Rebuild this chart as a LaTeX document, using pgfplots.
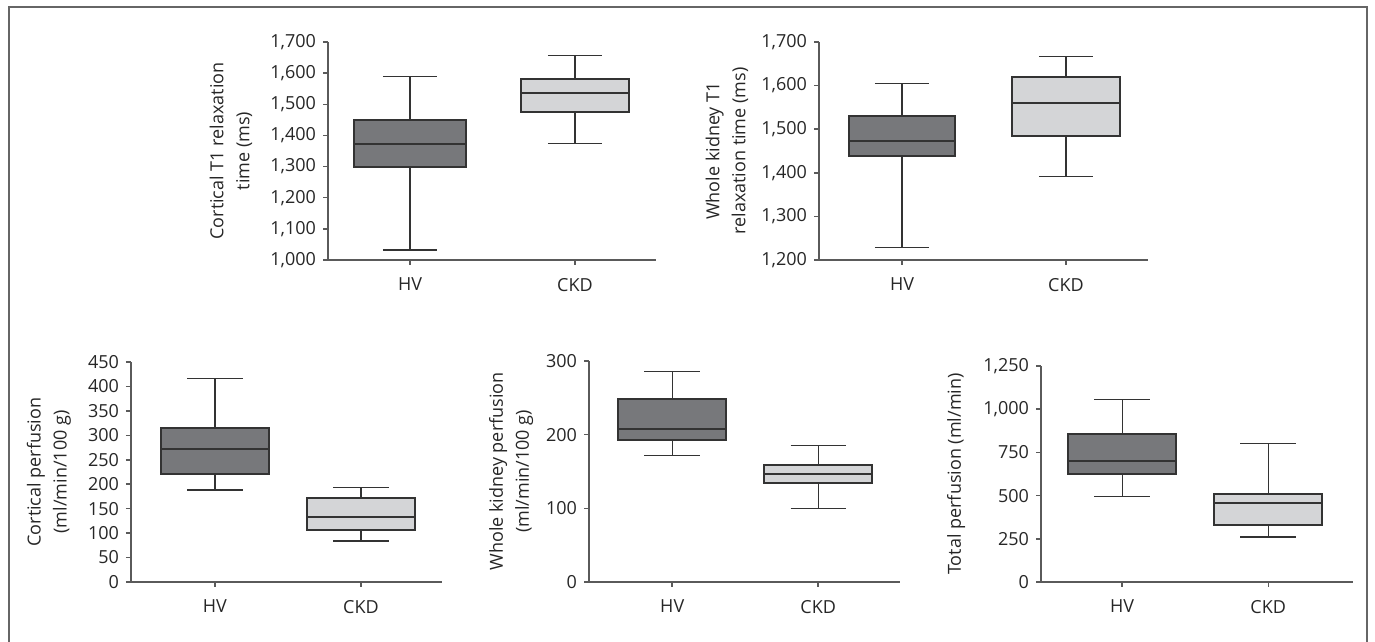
\documentclass[border=0pt]{standalone}
\usepackage{fontspec}
\setmainfont{Open Sans}
\usepackage{pgfplots}
\pgfplotsset{compat=1.18}
\definecolor{darkbox}{HTML}{77787B}
\definecolor{lightbox}{HTML}{D4D5D7}
\definecolor{edge}{HTML}{333333}
\definecolor{axisgray}{HTML}{5A5A5A}
\definecolor{framegray}{HTML}{666666}
\newcommand{\lblfont}{\fontsize{9}{13}\selectfont}
\pgfplotsset{
  whisk/.style={draw=edge, line width=0.6pt, mark=none},
  boxs/.style={draw=edge, line width=1pt, mark=none},
  mybox/.style={
    scale only axis,
    anchor=south west,
    clip=false,
    axis lines=left,
    axis line style={-, axisgray, line width=0.75pt},
    tick align=outside,
    major tick length=2.5pt,
    every tick/.style={axisgray, line width=0.75pt},
    xtick={1,2}, xticklabels={HV,CKD},
    tick label style={font=\lblfont, text=black!85},
    xticklabel style={yshift=-3pt},
    /pgf/number format/.cd, 1000 sep={,}, assume math mode=true,
    /pgfplots/.cd,
    every axis y label/.style={rotate=90, anchor=center, align=center, font=\lblfont, text=black!85},
  },
}
\begin{document}
\begin{tikzpicture}
\path[use as bounding box] (0,0) rectangle (687.5pt,321pt);
\draw[framegray, line width=1pt] (4.25pt,-1pt) -- (4.25pt,317.25pt) -- (683.5pt,317.25pt) -- (683.5pt,-1pt);

% Plot 1
\begin{axis}[mybox, at={(164pt,191pt)}, width=164pt, height=109pt,
  xmin=0.503, xmax=2.491, ymin=1000, ymax=1700, ytick distance=100,
  ylabel style={at={(axis description cs:-0.296,0.5)}},
  ylabel={Cortical T1 relaxation\\time (ms)}]
% HV: 1032, 1299, 1374, 1451, 1588
\addplot[whisk] coordinates {(1,1032) (1,1588)};
\addplot[whisk] coordinates {(0.835,1032) (1.165,1032)};
\addplot[whisk] coordinates {(0.835,1588) (1.165,1588)};
\addplot[boxs, fill=darkbox] coordinates {(0.66,1299) (1.34,1299) (1.34,1451) (0.66,1451)} -- cycle;
\addplot[boxs] coordinates {(0.66,1374) (1.34,1374)};
% CKD: 1374, 1474, 1536, 1582, 1657
\addplot[whisk] coordinates {(2,1374) (2,1657)};
\addplot[whisk] coordinates {(1.835,1374) (2.165,1374)};
\addplot[whisk] coordinates {(1.835,1657) (2.165,1657)};
\addplot[boxs, fill=lightbox] coordinates {(1.67,1474) (2.33,1474) (2.33,1582) (1.67,1582)} -- cycle;
\addplot[boxs] coordinates {(1.67,1536) (2.33,1536)};
\end{axis}

% Plot 2
\begin{axis}[mybox, at={(409.5pt,191pt)}, width=164.5pt, height=109pt,
  xmin=0.494, xmax=2.5, ymin=1200, ymax=1700, ytick distance=100,
  ylabel style={at={(axis description cs:-0.28,0.5)}},
  ylabel={Whole kidney T1\\relaxation time (ms)}]
% HV: 1229, 1438, 1473, 1531, 1605
\addplot[whisk] coordinates {(1,1229) (1,1605)};
\addplot[whisk] coordinates {(0.835,1229) (1.165,1229)};
\addplot[whisk] coordinates {(0.835,1605) (1.165,1605)};
\addplot[boxs, fill=darkbox] coordinates {(0.675,1438) (1.325,1438) (1.325,1531) (0.675,1531)} -- cycle;
\addplot[boxs] coordinates {(0.675,1473) (1.325,1473)};
% CKD: 1392, 1485, 1560, 1619, 1667
\addplot[whisk] coordinates {(2,1392) (2,1667)};
\addplot[whisk] coordinates {(1.835,1392) (2.165,1392)};
\addplot[whisk] coordinates {(1.835,1667) (2.165,1667)};
\addplot[boxs, fill=lightbox] coordinates {(1.67,1485) (2.33,1485) (2.33,1619) (1.67,1619)} -- cycle;
\addplot[boxs] coordinates {(1.67,1560) (2.33,1560)};
\end{axis}

% Plot 3
\begin{axis}[mybox, at={(65.5pt,30pt)}, width=155.5pt, height=110pt,
  xmin=0.425, xmax=2.555, ymin=0, ymax=450, ytick distance=50,
  ylabel style={at={(axis description cs:-0.264,0.5)}},
  ylabel={Cortical perfusion\\(ml/min/100 g)}]
% HV: 188, 221, 273, 314, 417
\addplot[whisk] coordinates {(1,188) (1,417)};
\addplot[whisk] coordinates {(0.81,188) (1.19,188)};
\addplot[whisk] coordinates {(0.81,417) (1.19,417)};
\addplot[boxs, fill=darkbox] coordinates {(0.63,221) (1.37,221) (1.37,314) (0.63,314)} -- cycle;
\addplot[boxs] coordinates {(0.63,273) (1.37,273)};
% CKD: 84, 107, 132, 171, 194
\addplot[whisk] coordinates {(2,84) (2,194)};
\addplot[whisk] coordinates {(1.81,84) (2.19,84)};
\addplot[whisk] coordinates {(1.81,194) (2.19,194)};
\addplot[boxs, fill=lightbox] coordinates {(1.63,107) (2.37,107) (2.37,171) (1.63,171)} -- cycle;
\addplot[boxs] coordinates {(1.63,132) (2.37,132)};
\end{axis}

% Plot 4
\begin{axis}[mybox, at={(294.5pt,30pt)}, width=155.5pt, height=110.5pt,
  xmin=0.43, xmax=2.56, ymin=0, ymax=300, ytick distance=100,
  ylabel style={at={(axis description cs:-0.25,0.5)}},
  ylabel={Whole kidney perfusion\\(ml/min/100 g)}]
% HV: 172, 193, 208, 248, 286
\addplot[whisk] coordinates {(1,172) (1,286)};
\addplot[whisk] coordinates {(0.81,172) (1.19,172)};
\addplot[whisk] coordinates {(0.81,286) (1.19,286)};
\addplot[boxs, fill=darkbox] coordinates {(0.63,193) (1.37,193) (1.37,248) (0.63,248)} -- cycle;
\addplot[boxs] coordinates {(0.63,208) (1.37,208)};
% CKD: 100, 135, 147, 159, 185
\addplot[whisk] coordinates {(2,100) (2,185)};
\addplot[whisk] coordinates {(1.81,100) (2.19,100)};
\addplot[whisk] coordinates {(1.81,185) (2.19,185)};
\addplot[boxs, fill=lightbox] coordinates {(1.63,135) (2.37,135) (2.37,159) (1.63,159)} -- cycle;
\addplot[boxs] coordinates {(1.63,147) (2.37,147)};
\end{axis}

% Plot 5
\begin{axis}[mybox, at={(520.5pt,30pt)}, width=156pt, height=108pt,
  xmin=0.445, xmax=2.58, ymin=0, ymax=1250, ytick distance=250,
  ylabel style={at={(axis description cs:-0.272,0.5)}},
  ylabel={Total perfusion (ml/min)}]
% HV: 494, 623, 702, 854, 1054
\addplot[whisk] coordinates {(1,494) (1,1054)};
\addplot[whisk] coordinates {(0.81,494) (1.19,494)};
\addplot[whisk] coordinates {(0.81,1054) (1.19,1054)};
\addplot[boxs, fill=darkbox] coordinates {(0.63,623) (1.37,623) (1.37,854) (0.63,854)} -- cycle;
\addplot[boxs] coordinates {(0.63,702) (1.37,702)};
% CKD: 260, 327, 456, 510, 802
\addplot[whisk] coordinates {(2,260) (2,802)};
\addplot[whisk] coordinates {(1.81,260) (2.19,260)};
\addplot[whisk] coordinates {(1.81,802) (2.19,802)};
\addplot[boxs, fill=lightbox] coordinates {(1.63,327) (2.37,327) (2.37,510) (1.63,510)} -- cycle;
\addplot[boxs] coordinates {(1.63,456) (2.37,456)};
\end{axis}
\end{tikzpicture}
\end{document}
